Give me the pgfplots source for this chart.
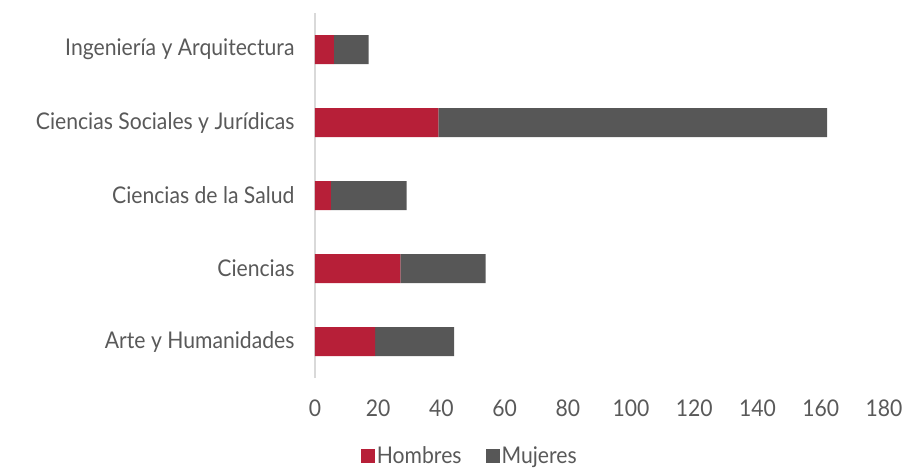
\documentclass[border=0pt]{standalone}
\usepackage{pgfplots}
\pgfplotsset{compat=1.18}
\usepackage{fontspec}
\setmainfont{Lato}[FakeStretch=0.92]
\definecolor{txt}{HTML}{595959}
\definecolor{hom}{HTML}{B71F38}
\definecolor{muj}{HTML}{575757}
\definecolor{axl}{HTML}{D9D9D9}
\begin{document}
\begin{tikzpicture}
\useasboundingbox (0pt,0pt) rectangle (903pt,-472pt);
\begin{axis}[
  at={(315pt,-378pt)}, anchor=south west,
  scale only axis, width=569pt, height=365pt,
  xbar stacked, bar width=29pt,
  xmin=0, xmax=180, ymin=-0.5, ymax=4.5,
  xtick={0,20,...,180},
  ytick={0,1,2,3,4},
  yticklabels={Arte y Humanidades, Ciencias, Ciencias de la Salud, Ciencias Sociales y Jurídicas, Ingeniería y Arquitectura},
  axis y line*=left,
  x axis line style={draw=none},
  y axis line style={draw=axl, line width=1.5pt, -},
  major tick length=0pt,
  tick style={draw=none},
  /pgf/number format/assume math mode=true,
  font=\fontsize{23}{26}\selectfont\color{txt},
  ticklabel style={font=\fontsize{23}{26}\selectfont, text=txt},
  xticklabel shift=18pt,
  yticklabel shift=17pt,
  legend columns=2,
  legend style={draw=none, fill=none, inner sep=0pt, at={(axis description cs:0.272,-0.213)}, anchor=center,
    font=\fontsize{23}{26}\selectfont, text=txt,
    /tikz/every even column/.append style={column sep=22pt}},
  legend image code/.code={\fill[#1] (3pt,-7pt) rectangle (17pt,7pt);},
  clip=false,
]
\addplot[fill=hom, draw=none] coordinates {(19,0) (27,1) (5,2) (39,3) (6,4)};
\addplot[fill=muj, draw=none] coordinates {(25,0) (27,1) (24,2) (123,3) (11,4)};
\legend{Hombres, Mujeres}
\end{axis}
\end{tikzpicture}
\end{document}
